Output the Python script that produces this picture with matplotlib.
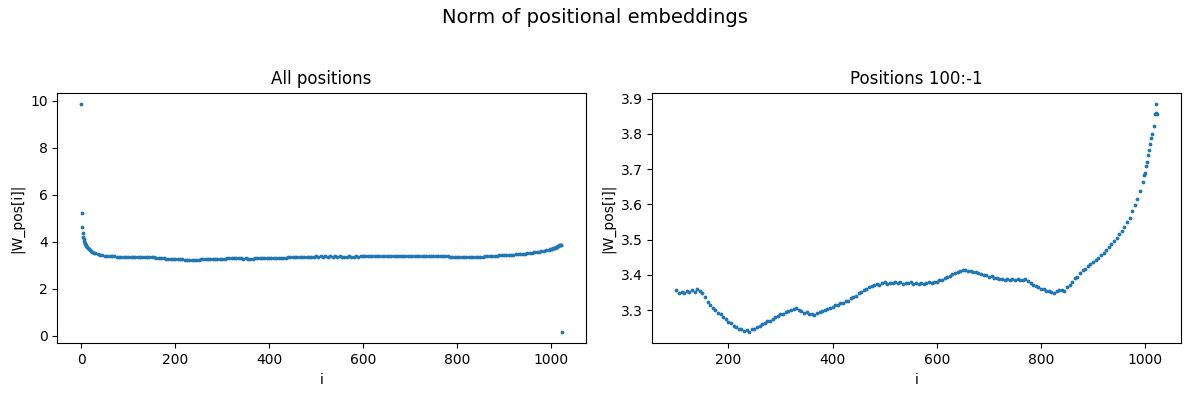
import numpy as np
import matplotlib.pyplot as plt

# norm of W_pos[i]
head_pos = [0, 1, 2, 3, 4, 5, 6, 7, 8, 9, 10, 12, 14, 16, 18, 20, 23, 26, 30,
            35, 40, 45, 50, 55, 60, 65, 70, 75, 80, 85, 90, 95]
head_norm = [9.87, 5.22, 4.62, 4.36, 4.21, 4.12, 4.04, 3.97, 3.92, 3.87, 3.83,
             3.77, 3.72, 3.68, 3.64, 3.61, 3.57, 3.54, 3.51, 3.48, 3.46, 3.44,
             3.42, 3.41, 3.40, 3.39, 3.38, 3.375, 3.37, 3.365, 3.36, 3.357]

mid_pos = list(range(100, 1000, 5))
mid_norm = [
    3.356, 3.349, 3.352, 3.347, 3.354, 3.350, 3.356, 3.352, 3.360, 3.354,
    3.348, 3.338, 3.322, 3.315, 3.305, 3.300, 3.292, 3.288, 3.279, 3.275,
    3.266, 3.262, 3.254, 3.252, 3.245, 3.246, 3.240, 3.242, 3.238, 3.245,
    3.247, 3.252, 3.255, 3.259, 3.262, 3.268, 3.268, 3.276, 3.280, 3.283,
    3.288, 3.290, 3.294, 3.297, 3.300, 3.302, 3.305, 3.301, 3.298, 3.292,
    3.294, 3.289, 3.290, 3.286, 3.293, 3.294, 3.297, 3.299, 3.302, 3.306,
    3.308, 3.314, 3.315, 3.319, 3.321, 3.326, 3.327, 3.333, 3.337, 3.341,
    3.347, 3.352, 3.356, 3.360, 3.364, 3.368, 3.370, 3.373, 3.372, 3.376,
    3.379, 3.375, 3.378, 3.376, 3.380, 3.377, 3.379, 3.375, 3.378, 3.376,
    3.379, 3.374, 3.377, 3.375, 3.378, 3.374, 3.377, 3.379, 3.376, 3.381,
    3.380, 3.384, 3.386, 3.390, 3.393, 3.397, 3.401, 3.404, 3.407, 3.410,
    3.413, 3.415, 3.411, 3.412, 3.407, 3.408, 3.404, 3.403, 3.399, 3.400,
    3.395, 3.396, 3.390, 3.391, 3.387, 3.389, 3.386, 3.388, 3.385, 3.387,
    3.384, 3.388, 3.386, 3.385, 3.387, 3.382, 3.378, 3.372, 3.367, 3.364,
    3.360, 3.359, 3.355, 3.353, 3.350, 3.349, 3.353, 3.356, 3.358, 3.355,
    3.365, 3.372, 3.380, 3.390, 3.395, 3.405, 3.413, 3.417, 3.424, 3.430,
    3.436, 3.442, 3.448, 3.456, 3.462, 3.470, 3.480, 3.487, 3.495, 3.505,
    3.515, 3.525, 3.537, 3.549, 3.562, 3.580, 3.598, 3.615, 3.638, 3.663,
]

tail_pos = [998, 1000, 1002, 1004, 1006, 1008, 1010, 1012, 1014, 1016, 1018,
            1020, 1021, 1022, 1023]
tail_norm = [3.683, 3.690, 3.708, 3.720, 3.740, 3.755, 3.770, 3.787, 3.800,
             3.822, 3.855, 3.885, 3.860, 3.855, 0.17]

pos = np.array(head_pos + mid_pos + tail_pos)
norm = np.array(head_norm + mid_norm + tail_norm)

fig, axes = plt.subplots(1, 2, figsize=(11.89, 3.96))
fig.suptitle("Norm of positional embeddings", fontsize=14)

ax = axes[0]
ax.scatter(pos, norm, s=3)
ax.set_title("All positions")
ax.set_xlabel("i")
ax.set_ylabel("|W_pos[i]|")

# positions 100:-1
sel = (pos >= 100) & (pos < pos.max())
ax = axes[1]
ax.scatter(pos[sel], norm[sel], s=3)
ax.set_title("Positions 100:-1")
ax.set_xlabel("i")
ax.set_ylabel("|W_pos[i]|")

plt.subplots_adjust(left=0.0482, right=0.993, top=0.7664, bottom=0.1331,
                    wspace=0.126)
plt.savefig("out.png", dpi=100)
